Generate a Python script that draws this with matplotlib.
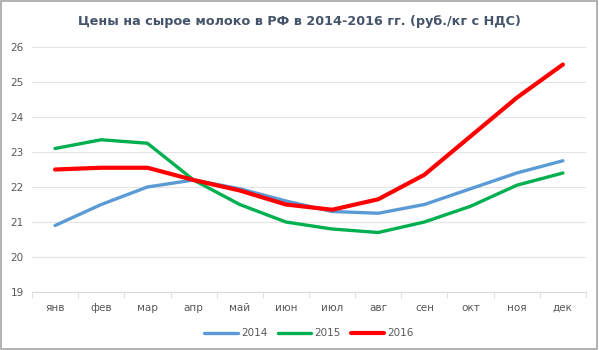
import matplotlib.pyplot as plt
import matplotlib.patches as mpatches
import numpy as np

# months and prices (rub/kg incl. VAT)
months = ['янв', 'фев', 'мар', 'апр', 'май', 'июн', 'июл', 'авг', 'сен', 'окт', 'ноя', 'дек']
p2014 = [20.9, 21.5, 22.0, 22.2, 21.95, 21.6, 21.3, 21.25, 21.5, 21.95, 22.4, 22.75]
p2015 = [23.1, 23.35, 23.25, 22.2, 21.5, 21.0, 20.8, 20.7, 21.0, 21.45, 22.05, 22.4]
p2016 = [22.5, 22.55, 22.55, 22.2, 21.9, 21.5, 21.35, 21.65, 22.35, 23.45, 24.55, 25.5]
years = ['2014', '2015', '2016']
colors = ['#5B9BD5', '#00B050', '#FF0000']

fig = plt.figure(figsize=(5.99, 3.5), dpi=100)
ax = fig.add_axes([32/599, 58/350, 554/599, 245/350])

x = np.arange(len(months))
for vals, lab, c in zip([p2014, p2015, p2016], years, colors):
    ax.plot(x, vals, color=c, lw=3.0 if lab == '2016' else 2.4, label=lab,
            solid_capstyle='round', solid_joinstyle='round')

ax.set_xlim(-0.5, 11.5)
ax.set_ylim(19, 26)
ax.set_yticks(range(19, 27))
ax.set_xticks(x)
ax.set_xticklabels(months)
ax.set_xticks(np.arange(-0.5, 12, 1), minor=True)
ax.grid(axis='y', color='#E4E4E4', lw=0.8)
ax.set_axisbelow(True)
for s in ['top', 'right', 'left']:
    ax.spines[s].set_visible(False)
ax.spines['bottom'].set_color('#D9D9D9')
ax.tick_params(axis='both', colors='#595959', labelsize=7.5, length=0, pad=8)
ax.tick_params(axis='x', which='minor', length=4, color='#D9D9D9')
ax.tick_params(axis='y', pad=6)

fig.text(0.5, 0.94, 'Цены на сырое молоко в РФ в 2014-2016 гг. (руб./кг с НДС)',
         ha='center', va='center', fontsize=9.2, fontweight='bold', color='#44546A')

ax.legend(loc='upper center', bbox_to_anchor=(0.5, -0.11), ncol=3, frameon=False,
          fontsize=7.5, labelcolor='#595959', handlelength=3.2, columnspacing=1.0,
          handletextpad=0.3)

fig.patches.append(mpatches.Rectangle((0.002, 0.003), 0.995, 0.993, transform=fig.transFigure,
                                      fill=False, edgecolor='#A6A6A6', lw=1.2))

fig.savefig('out.png', dpi=100)
